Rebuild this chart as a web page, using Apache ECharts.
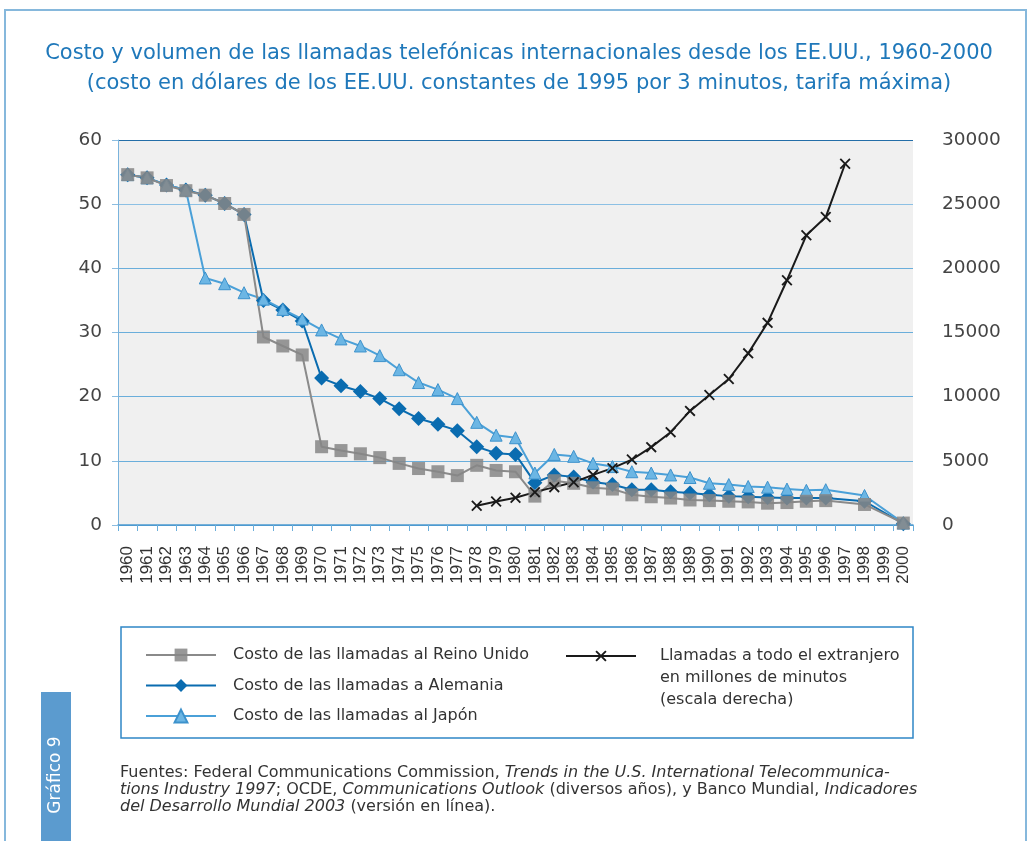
<!DOCTYPE html>
<html>
<head>
<meta charset="utf-8">
<script src="https://cdn.jsdelivr.net/npm/echarts@6.0.0/dist/echarts.min.js"></script>
<style>
  html, body { margin: 0; padding: 0; background: #fff; }
  #chart { width: 1034px; height: 841px; }
</style>
</head>
<body>
<div id="chart"></div>
<script>
// años (eje x)
const years = ['1960','1961','1962','1963','1964','1965','1966','1967','1968','1969',
  '1970','1971','1972','1973','1974','1975','1976','1977','1978','1979',
  '1980','1981','1982','1983','1984','1985','1986','1987','1988','1989',
  '1990','1991','1992','1993','1994','1995','1996','1997','1998','1999','2000'];

// costo por 3 minutos, dólares de 1995
const costoReinoUnido = [54.6,54.1,52.9,52.1,51.4,50.1,48.4,29.3,27.9,26.5,
  12.2,11.6,11.1,10.5,9.6,8.8,8.3,7.7,9.3,8.5,
  8.3,4.5,6.9,6.5,5.8,5.6,4.7,4.4,4.2,3.9,
  3.8,3.7,3.6,3.4,3.5,3.7,3.8,null,3.2,null,
  0.3];
const costoAlemania = [54.6,54.1,53.0,52.2,51.4,50.1,48.4,35.0,33.5,31.8,
  22.9,21.7,20.8,19.7,18.1,16.6,15.7,14.7,12.2,11.2,
  11.0,6.6,7.8,7.5,6.7,6.3,5.5,5.5,5.2,5.0,
  4.7,4.5,4.4,4.3,4.2,4.2,4.2,null,3.7,null,
  0.2];
const costoJapon = [54.6,54.1,53.0,52.2,38.5,37.6,36.2,35.2,33.6,32.1,
  30.4,29.0,27.9,26.4,24.2,22.2,21.1,19.7,16.0,14.0,
  13.6,8.1,11.0,10.7,9.6,9.1,8.3,8.1,7.8,7.4,
  6.5,6.3,6.0,5.9,5.6,5.4,5.5,null,4.6,null,
  0.3];
// millones de minutos (escala derecha)
const minutosExtranjero = [null,null,null,null,null,null,null,null,null,null,
  null,null,null,null,null,null,null,null,1500,1830,
  2120,2560,2950,3330,3910,4430,5100,6065,7232,8888,
  10132,11376,13375,15754,19074,22574,23997,28149,null,null,
  null];

const nombres = [
  'Costo de las llamadas al Reino Unido',
  'Costo de las llamadas a Alemania',
  'Costo de las llamadas al Japón',
  'Llamadas a todo el extranjero'
];

const font = '"DejaVu Sans", "Liberation Sans", sans-serif';
const fontNum = '"Liberation Sans", Arial, sans-serif';
const xSymbol = 'path://M0,1.2L1.2,0L5,3.8L8.8,0L10,1.2L6.2,5L10,8.8L8.8,10L5,6.2L1.2,10L0,8.8L3.8,5Z';

const chart = echarts.init(document.getElementById('chart'));

chart.setOption({
  animation: false,
  textStyle: { fontFamily: font },
  title: {
    text: 'Costo y volumen de las llamadas telefónicas internacionales desde los EE.UU., 1960-2000\n(costo en dólares de los EE.UU. constantes de 1995 por 3 minutos, tarifa máxima)',
    left: 519,
    textAlign: 'center',
    top: 39,
    padding: 0,
    textStyle: { color: '#1f78ba', fontSize: 21, fontWeight: 'normal', lineHeight: 30, fontFamily: font }
  },
  grid: {
    left: 118, right: 121, top: 140, bottom: 316,
    show: true, backgroundColor: '#f0f0f0', borderWidth: 0
  },
  legend: [
    {
      data: nombres.slice(0, 3),
      orient: 'vertical',
      left: 145, top: 647,
      padding: 0,
      itemWidth: 70, itemHeight: 16, itemGap: 14.5,
      textStyle: { fontSize: 16, color: '#333', lineHeight: 16, padding: [0, 0, 0, 12], fontFamily: font }
    },
    {
      data: [nombres[3]],
      orient: 'vertical',
      left: 565, top: 648,
      padding: 0,
      itemWidth: 70, itemHeight: 14,
      textStyle: { fontSize: 16, color: '#333', lineHeight: 16, padding: [0, 0, 0, 19], fontFamily: font }
    }
  ],
  xAxis: {
    type: 'category',
    data: years,
    boundaryGap: true,
    axisLine: { lineStyle: { color: '#4d9ad0', width: 1.5 } },
    axisTick: { show: true, length: 6, lineStyle: { color: '#6aaedb' } },
    axisLabel: { rotate: 90, interval: 0, fontSize: 17, color: '#333', margin: 21, fontFamily: fontNum }
  },
  yAxis: [
    {
      type: 'value', min: 0, max: 60, interval: 10,
      axisLine: { show: true, lineStyle: { color: '#7ab3dc' } },
      axisTick: { show: true, length: 6, lineStyle: { color: '#8cbde0' } },
      axisLabel: { fontSize: 18.5, color: '#444', margin: 16, fontFamily: font },
      splitLine: {
        lineStyle: {
          color: ['#4d9ad0', '#6aaedb', '#6aaedb', '#6aaedb', '#6aaedb', '#8cc0e4', '#246ea8'],
          width: 1.2
        }
      }
    },
    {
      type: 'value', min: 0, max: 30000, interval: 5000,
      position: 'right',
      axisLine: { show: false },
      axisTick: { show: false },
      splitLine: { show: false },
      axisLabel: { fontSize: 18.5, color: '#444', margin: 29, fontFamily: font, formatter: v => String(v) }
    }
  ],
  series: [
    {
      name: nombres[1], type: 'line', data: costoAlemania, connectNulls: true,
      symbol: 'diamond', symbolSize: 15,
      lineStyle: { color: '#0a6cb0', width: 2 },
      itemStyle: { color: '#0a6cb0' }
    },
    {
      name: nombres[2], type: 'line', data: costoJapon, connectNulls: true,
      symbol: 'triangle', symbolSize: 12,
      lineStyle: { color: '#4aa0d8', width: 2 },
      itemStyle: { color: '#6cb6e4', borderColor: '#3d92cc', borderWidth: 1 }
    },
    {
      name: nombres[0], type: 'line', data: costoReinoUnido, connectNulls: true,
      symbol: 'rect', symbolSize: 13,
      lineStyle: { color: '#8a8a8a', width: 2 },
      itemStyle: { color: '#868686', opacity: 0.85 }
    },
    {
      name: nombres[3], type: 'line', data: minutosExtranjero, yAxisIndex: 1,
      symbol: xSymbol, symbolSize: 11,
      lineStyle: { color: '#1a1a1a', width: 2 },
      itemStyle: { color: '#1a1a1a' }
    }
  ],
  graphic: [
    // marco exterior
    {
      type: 'rect', silent: true,
      shape: { x: 5, y: 10, width: 1021, height: 850 },
      style: { fill: 'none', stroke: '#86b8dc', lineWidth: 2 }
    },
    // caja de la leyenda
    {
      type: 'rect', silent: true, z: -1,
      shape: { x: 121, y: 627, width: 792, height: 111 },
      style: { fill: 'none', stroke: '#2f86c6', lineWidth: 1.5 }
    },
    {
      type: 'text', left: 660, top: 667,
      style: { text: 'en millones de minutos\n(escala derecha)', fontSize: 16, lineHeight: 22, fill: '#333', fontFamily: font }
    },
    // pestaña lateral
    {
      type: 'rect', silent: true,
      shape: { x: 41, y: 692, width: 30, height: 160 },
      style: { fill: '#5b9bcf' }
    },
    {
      type: 'text', x: 56, y: 775, rotation: Math.PI / 2,
      style: { text: 'Gráfico 9', fontSize: 17, fill: '#fff', align: 'center', verticalAlign: 'middle', fontFamily: font }
    },
    // fuentes
    {
      type: 'text', left: 120, top: 765,
      style: {
        text: '{n|Fuentes: Federal Communications Commission, }{i|Trends in the U.S. International Telecommunica-}\n' +
              '{i|tions Industry 1997}{n|; OCDE, }{i|Communications Outlook}{n| (diversos años), y Banco Mundial, }{i|Indicadores}\n' +
              '{i|del Desarrollo Mundial 2003}{n| (versión en línea).}',
        rich: {
          n: { fontSize: 16, lineHeight: 17, fill: '#333', fontFamily: font },
          i: { fontSize: 16, lineHeight: 17, fill: '#333', fontStyle: 'italic', fontFamily: font }
        }
      }
    }
  ]
});
</script>
</body>
</html>
